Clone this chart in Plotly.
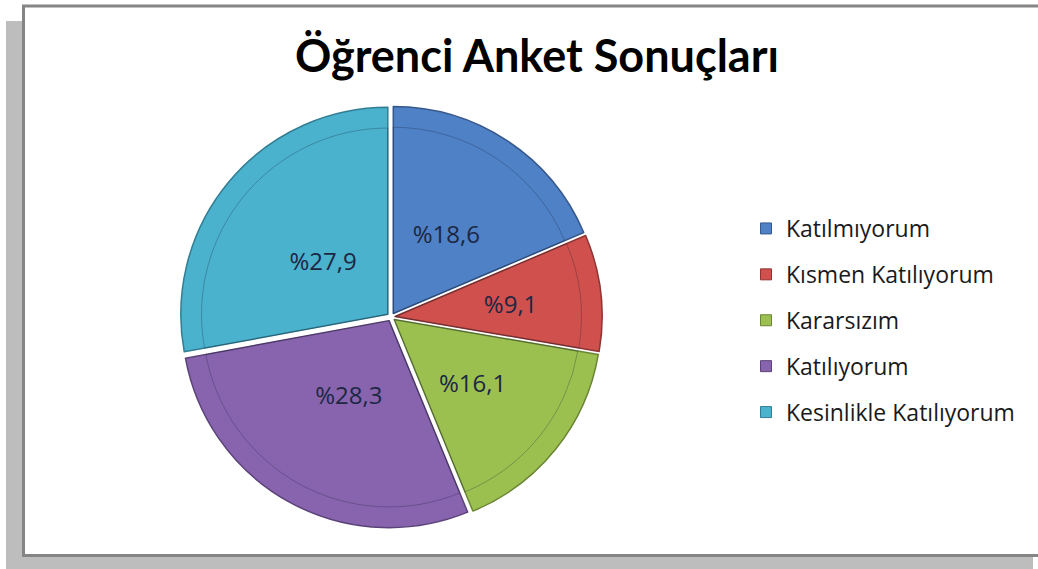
import plotly.graph_objects as go

categories = ["Katılmıyorum", "Kısmen Katılıyorum", "Kararsızım", "Katılıyorum", "Kesinlikle Katılıyorum"]
values = [18.6, 9.1, 16.1, 28.3, 27.9]
colors = ["#4F81C7", "#CF504D", "#9BC050", "#8864AE", "#4BB2CE"]
edge_colors = ["#36598C", "#8E3533", "#6B8535", "#5B4379", "#327D92"]
title_text = "Öğrenci Anket Sonuçları"

W, H = 1038, 569
px = lambda x: x / W
py = lambda y: 1 - y / H

labels_txt = ["%" + f"{v:.1f}".replace(".", ",") for v in values]

# pie geometry (pixels)
cx, cy, r, p = 391, 317, 207, 0.02


def dom(k):
    """domain for a pie of radius k*r sharing the same slice offsets"""
    pk = p / k
    half = r * (k + p)
    return dict(x=[px(cx - half), px(cx + half)], y=[py(cy + half), py(cy - half)]), pk


fig = go.Figure()

d0, p0 = dom(1.0)
fig.add_trace(go.Pie(
    labels=categories, values=values, textinfo="none",
    sort=False, direction="clockwise", rotation=0,
    pull=[p0] * len(values),
    marker=dict(colors=colors, line=dict(color=edge_colors, width=1.5)),
    domain=d0, showlegend=False, hoverinfo="label+percent",
))

# inner bevel outline
d1, p1 = dom(0.9)
fig.add_trace(go.Pie(
    labels=categories, values=values, textinfo="none",
    sort=False, direction="clockwise", rotation=0,
    pull=[p1] * len(values),
    marker=dict(colors=["rgba(0,0,0,0)"] * len(values),
                line=dict(color="rgba(20,30,50,0.28)", width=1)),
    domain=d1, showlegend=False, hoverinfo="skip",
))

# label layer
d2, p2 = dom(0.72)
fig.add_trace(go.Pie(
    labels=categories, values=values, text=labels_txt,
    textinfo="text", textposition="inside", insidetextorientation="horizontal",
    sort=False, direction="clockwise", rotation=0,
    pull=[p2] * len(values),
    marker=dict(colors=["rgba(0,0,0,0)"] * len(values), line=dict(width=0)),
    textfont=dict(family="Open Sans", size=24, color="#1C2742"),
    domain=d2, showlegend=False, hoverinfo="skip",
))

for c, col, ec in zip(categories, colors, edge_colors):
    fig.add_trace(go.Scatter(
        x=[None], y=[None], mode="markers", name=c,
        marker=dict(symbol="square", size=11, color=col, line=dict(color=ec, width=1)),
        legendgroup=c, showlegend=True,
    ))

shapes = [
    dict(type="rect", xref="paper", yref="paper", x0=px(6), x1=px(23), y0=py(572), y1=py(21),
         fillcolor="#BDBDBD", line=dict(width=0), layer="below"),
    dict(type="rect", xref="paper", yref="paper", x0=px(6), x1=px(1033), y0=py(572), y1=py(556),
         fillcolor="#BDBDBD", line=dict(width=0), layer="below"),
    dict(type="rect", xref="paper", yref="paper", x0=px(23.5), x1=px(1050), y0=py(555.5), y1=py(6),
         fillcolor="white", line=dict(color="#858585", width=3), layer="below"),
]

fig.update_layout(
    width=W, height=H, autosize=False,
    margin=dict(l=0, r=0, t=0, b=0),
    paper_bgcolor="white", plot_bgcolor="rgba(0,0,0,0)",
    title=dict(text=title_text, x=px(537), xanchor="center", y=py(56), yanchor="middle",
               font=dict(family="Lato", size=45, color="#000000", weight="bold")),
    xaxis=dict(visible=False), yaxis=dict(visible=False),
    legend=dict(x=px(746), xanchor="left", y=py(207), yanchor="top",
                font=dict(family="Open Sans", size=23, color="#1a1a1a"),
                tracegroupgap=13, traceorder="grouped",
                bgcolor="rgba(0,0,0,0)", borderwidth=0),
    shapes=shapes,
)

fig.write_html(
    "out.html",
    config={"displayModeBar": False},
    post_script="document.body.style.margin='0';"
                "document.body.style.overflow='hidden';"
                "document.documentElement.style.overflow='hidden';",
)
